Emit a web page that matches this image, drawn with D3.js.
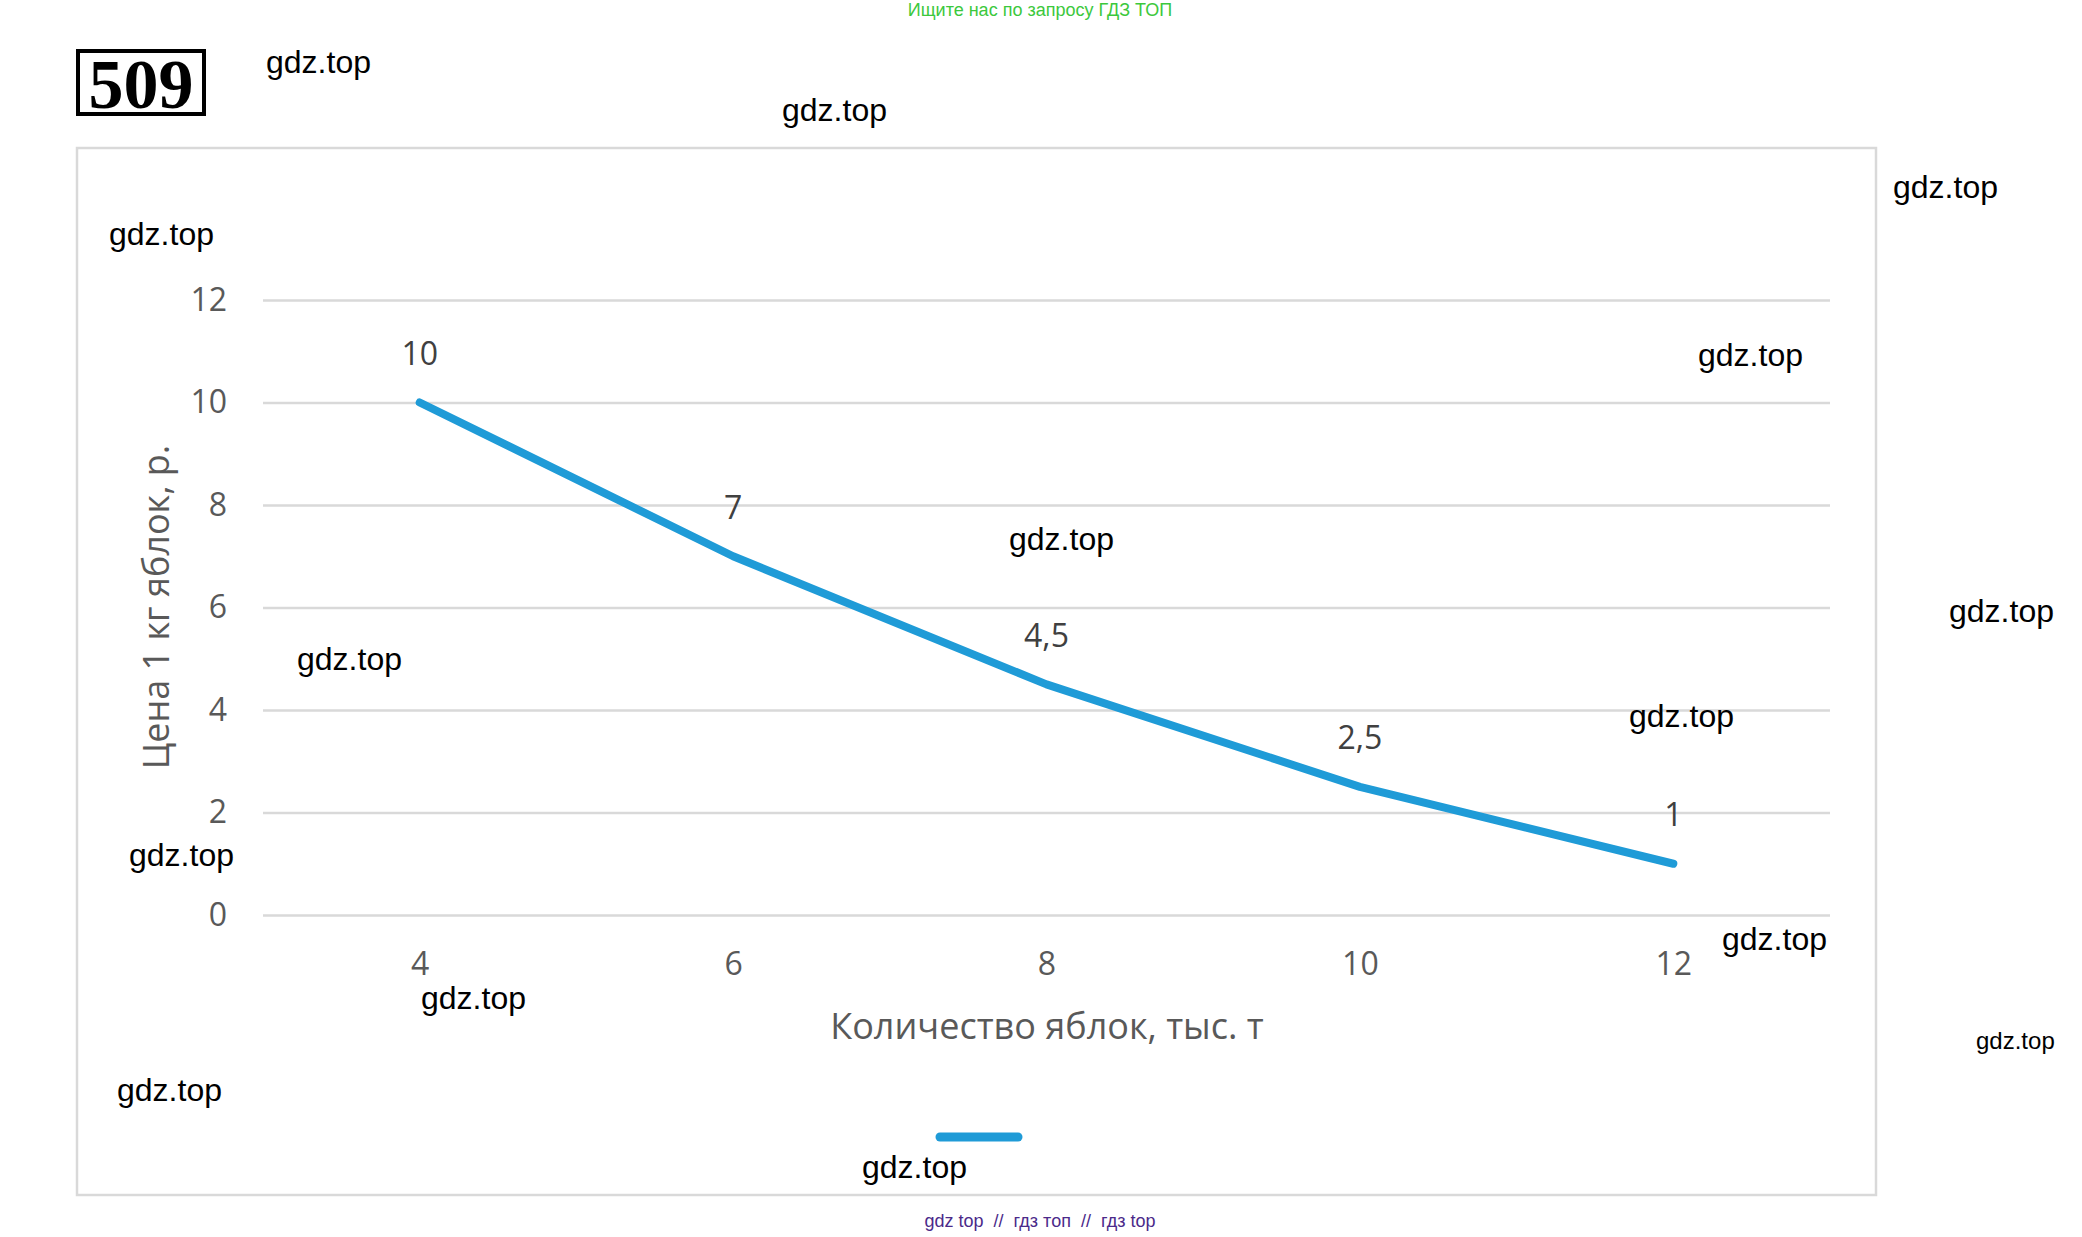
<!DOCTYPE html>
<html><head><meta charset="utf-8">
<script src="https://cdn.jsdelivr.net/npm/d3@7"></script>
<style>html,body{margin:0;padding:0;background:#fff;}svg{display:block;}</style>
</head><body>
<script>
const categories = [4, 6, 8, 10, 12];
const prices = [10, 7, 4.5, 2.5, 1];
const priceLabels = ["10", "7", "4,5", "2,5", "1"];
const yTicks = [0, 2, 4, 6, 8, 10, 12];
const xTitle = "Количество яблок, тыс. т";
const yTitle = "Цена 1 кг яблок, р.";
const taskNumber = "509";
const topNote = "Ищите нас по запросу ГДЗ ТОП";
const bottomNote = "gdz top  //  гдз топ  //  гдз top";
const marks = [[266,65],[782,113],[1893,190],[109,237],[1698,358],[1009,542],[1949,614],[297,662],[1629,719],[129,858],[1722,942],[421,1001],[117,1093],[862,1170]];

const W = 2082, H = 1237;
const svg = d3.select("body").append("svg").attr("width", W).attr("height", H);
const chartFont = "'Open Sans', 'Noto Sans', sans-serif";
const wmFont = "'Liberation Sans', Arial, sans-serif";

// top note
svg.append("text").attr("x", 1040).attr("y", 11).attr("text-anchor","middle")
  .attr("dominant-baseline","middle").attr("font-family", wmFont).attr("font-size", 18)
  .attr("fill", "#3cc83c").text(topNote);

// task number box
svg.append("rect").attr("x", 78).attr("y", 51).attr("width", 126).attr("height", 63)
  .attr("fill","none").attr("stroke","#000").attr("stroke-width", 4);
svg.append("text").attr("x", 141).attr("y", 84).attr("text-anchor","middle")
  .attr("dominant-baseline","central").attr("font-family","'Liberation Serif', 'DejaVu Serif', serif")
  .attr("font-weight","bold").attr("font-size", 70).attr("fill","#000").text(taskNumber);

// chart frame
svg.append("rect").attr("x", 77).attr("y", 148).attr("width", 1799).attr("height", 1047)
  .attr("fill","#fff").attr("stroke","#d9d9d9").attr("stroke-width", 2.5);

const x = d3.scalePoint().domain(categories).range([263, 1830]).padding(0.5);
const y = d3.scaleLinear().domain([0, 12]).range([915, 300]);

// gridlines + y axis
const yAxis = d3.axisLeft(y).tickValues(yTicks).tickSize(-(1830-263)).tickPadding(36)
  .tickFormat(d3.format("d"));
const gy = svg.append("g").attr("transform", "translate(263,0)").call(yAxis);
gy.select(".domain").remove();
gy.selectAll(".tick line").attr("stroke", "#d9d9d9").attr("stroke-width", 2.5);
gy.selectAll(".tick text").attr("font-family", chartFont).attr("font-size", 32).attr("fill", "#595959");

// x axis
const xAxis = d3.axisBottom(x).tickSize(0).tickPadding(57);
const gx = svg.append("g").attr("transform", "translate(0,915)").call(xAxis);
gx.select(".domain").remove();
gx.selectAll(".tick text").attr("font-family", chartFont).attr("font-size", 32).attr("fill", "#595959")
  .attr("dy", "0.1em");

// axis titles
svg.append("text").attr("x", 1047).attr("y", 1025).attr("text-anchor","middle")
  .attr("dominant-baseline","central").attr("font-family", chartFont).attr("font-size", 36)
  .attr("fill","#595959").text(xTitle);
svg.append("text").attr("transform","translate(155,607) rotate(-90)").attr("text-anchor","middle")
  .attr("dominant-baseline","central").attr("font-family", chartFont).attr("font-size", 36)
  .attr("fill","#595959").text(yTitle);

// line
const data = categories.map((c, i) => ({c, v: prices[i], l: priceLabels[i]}));
const line = d3.line().x(d => x(d.c)).y(d => y(d.v));
svg.append("path").datum(data).attr("d", line).attr("fill","none")
  .attr("stroke","#1f9bd7").attr("stroke-width", 8).attr("stroke-linecap","round").attr("stroke-linejoin","round");

// data labels
svg.append("g").selectAll("text").data(data).join("text")
  .attr("x", d => x(d.c)).attr("y", d => y(d.v) - 50).attr("text-anchor","middle")
  .attr("dominant-baseline","central").attr("font-family", chartFont).attr("font-size", 32)
  .attr("fill","#404040").text(d => d.l);

// legend swatch
svg.append("line").attr("x1", 940).attr("x2", 1018).attr("y1", 1137).attr("y2", 1137)
  .attr("stroke","#1f9bd7").attr("stroke-width", 9).attr("stroke-linecap","round");

// watermarks
svg.append("g").selectAll("text").data(marks).join("text")
  .attr("x", d => d[0]).attr("y", d => d[1]).attr("dominant-baseline","middle")
  .attr("font-family", wmFont).attr("font-size", 32).attr("fill","#000").text("gdz.top");
svg.append("text").attr("x", 1976).attr("y", 1043).attr("dominant-baseline","middle")
  .attr("font-family", wmFont).attr("font-size", 24).attr("fill","#000").text("gdz.top");

// bottom note
svg.append("text").attr("x", 1040).attr("y", 1222).attr("text-anchor","middle")
  .attr("dominant-baseline","middle").attr("font-family", wmFont).attr("font-size", 18)
  .attr("fill","#4b2a8a").attr("xml:space","preserve").style("white-space","pre").text(bottomNote);
</script>
</body></html>
